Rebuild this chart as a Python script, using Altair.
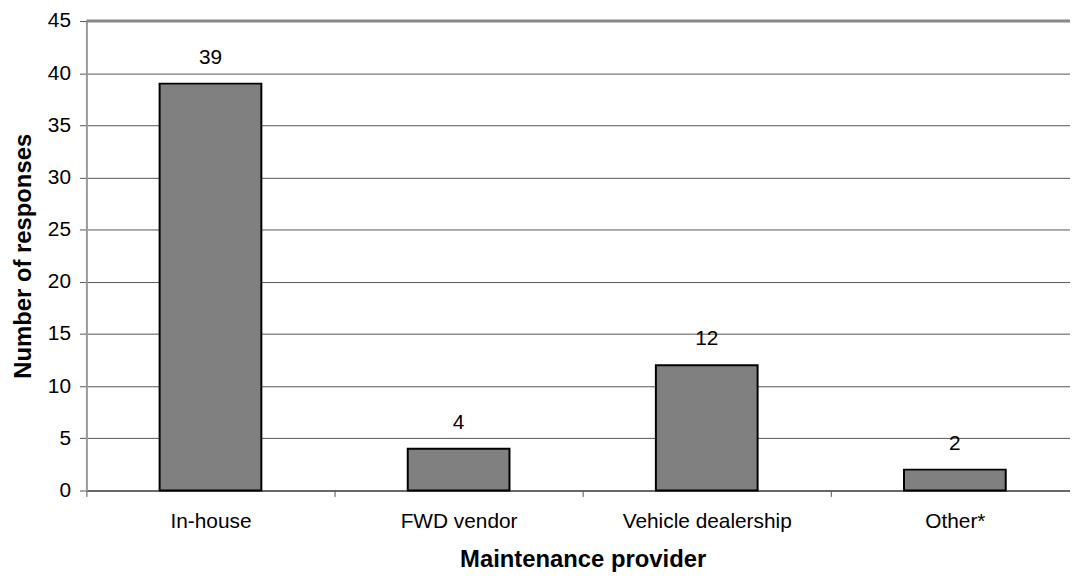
import altair as alt
import pandas as pd

categories = ["In-house", "FWD vendor", "Vehicle dealership", "Other*"]
responses = [39, 4, 12, 2]

df = pd.DataFrame({"provider": categories, "count": responses})

FONT = "Liberation Sans"

xscale = alt.Scale(domain=categories, paddingInner=0.59, paddingOuter=0.295)
yscale = alt.Scale(domain=[0, 45], nice=False)

base = alt.Chart(df)

bars = base.mark_bar(color="#808080", stroke="black", strokeWidth=2).encode(
    x=alt.X("provider:N", scale=xscale, sort=categories,
            axis=alt.Axis(title="Maintenance provider", labelAngle=0,
                          tickOffset=-125, labelOffset=125,
                          labelFont=FONT, labelFontSize=21, labelColor="black",
                          labelPadding=14, tickSize=6, tickColor="#555555",
                          domainColor="#555555", domainWidth=1.5,
                          titleFont=FONT, titleFontSize=24, titleFontWeight="bold",
                          titleColor="black", titlePadding=17, grid=False)),
    y=alt.Y("count:Q", scale=yscale,
            axis=alt.Axis(title="Number of responses", values=list(range(0, 50, 5)),
                          labelFont=FONT, labelFontSize=21, labelColor="black",
                          labelPadding=9, tickSize=7, tickColor="#555555",
                          domainColor="#999999", domainWidth=2,
                          grid=True, gridColor="#555555", gridWidth=1,
                          titleFont=FONT, titleFontSize=24, titleFontWeight="bold",
                          titleColor="black", titlePadding=12)),
)

labels = base.mark_text(dy=-20, baseline="alphabetic", font=FONT, fontSize=21, color="black").encode(
    x=alt.X("provider:N", scale=xscale, sort=categories),
    y=alt.Y("count:Q", scale=yscale),
    text="count:Q",
)

top = alt.Chart(pd.DataFrame({"v": [45]})).mark_rule(color="#888888", strokeWidth=3).encode(
    y=alt.Y("v:Q", scale=yscale)
)

chart = alt.layer(bars, labels, top).properties(
    width=1000, height=473,
    autosize=alt.AutoSizeParams(type="none"),
    padding={"left": 79, "top": 11, "right": -9, "bottom": 81},
).configure_view(stroke=None).configure(background="white")

chart.save("out.html", embed_options={"renderer": "svg", "actions": False})
